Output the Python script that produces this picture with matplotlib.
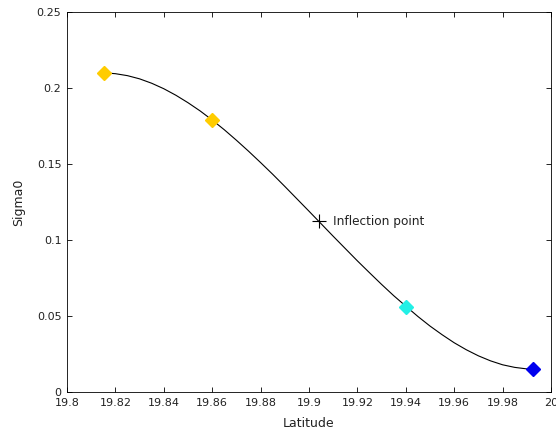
import matplotlib.pyplot as plt

# curve
lat = [19.8153, 19.8175, 19.82, 19.825, 19.83, 19.835, 19.84, 19.845, 19.85, 19.855,
       19.86, 19.865, 19.87, 19.875, 19.88, 19.885, 19.89, 19.90, 19.91, 19.92,
       19.925, 19.93, 19.935, 19.94, 19.945, 19.95, 19.955, 19.96, 19.965, 19.97,
       19.975, 19.98, 19.985, 19.99, 19.9926]
sigma0 = [0.2099, 0.2098, 0.2095, 0.2082, 0.2061, 0.2032, 0.1996, 0.1953, 0.1904, 0.1850,
          0.1790, 0.1726, 0.1657, 0.1585, 0.1510, 0.1433, 0.1353, 0.1190, 0.1025, 0.0863,
          0.0785, 0.0708, 0.0634, 0.0565, 0.0497, 0.0434, 0.0377, 0.0324, 0.0278, 0.0238,
          0.0205, 0.0179, 0.0162, 0.0152, 0.0151]

# diamond markers
pt_lat = [19.8153, 19.86, 19.94, 19.9926]
pt_sigma = [0.2099, 0.179, 0.0559, 0.0151]
pt_colors = ['#FFCC00', '#FFCC00', '#22F0E6', '#0000EE']

# inflection point
infl_lat = 19.904
infl_sigma = 0.1125
infl_label = 'Inflection point'

xticks = [19.8, 19.82, 19.84, 19.86, 19.88, 19.9, 19.92, 19.94, 19.96, 19.98, 20]
xticklabels = ['19.8', '19.82', '19.84', '19.86', '19.88', '19.9', '19.92', '19.94', '19.96', '19.98', '20']
yticks = [0, 0.05, 0.1, 0.15, 0.2, 0.25]
yticklabels = ['0', '0.05', '0.1', '0.15', '0.2', '0.25']

plt.rcParams['font.family'] = ['DejaVu Sans']

fig = plt.figure(figsize=(5.56, 4.34), dpi=100)
ax = fig.add_axes([0.1205, 0.0968, 0.8705, 0.8752])

ax.plot(lat, sigma0, color='black', linewidth=0.8)
for x, y, c in zip(pt_lat, pt_sigma, pt_colors):
    ax.plot(x, y, marker='D', markersize=7.2, color=c, markeredgecolor=c, linestyle='none')
ax.plot(infl_lat, infl_sigma, marker='+', markersize=10, markeredgewidth=0.8, color='black')
ax.text(infl_lat + 0.006, infl_sigma, infl_label, va='center', ha='left', fontsize=8.7,
        color='#222222')

ax.set_xlim(19.8, 20)
ax.set_ylim(0, 0.25)
ax.set_xticks(xticks)
ax.set_xticklabels(xticklabels)
ax.set_yticks(yticks)
ax.set_yticklabels(yticklabels)
ax.tick_params(direction='in', length=3.5, width=0.6, top=True, right=True, pad=4,
               labelsize=8, labelcolor='#222222')
for s in ax.spines.values():
    s.set_linewidth(0.6)

ax.set_xlabel('Latitude', fontsize=9, labelpad=6.5, color='#222222')
ax.set_ylabel('Sigma0', fontsize=9, labelpad=8, color='#222222')

fig.savefig('out.png', dpi=100)
